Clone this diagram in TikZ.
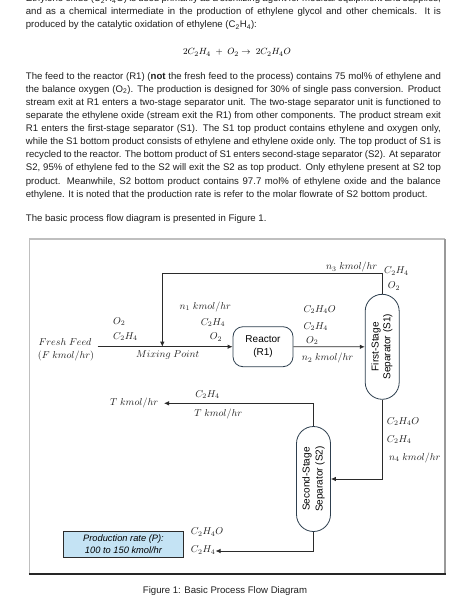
\documentclass[tikz,border=0pt]{standalone}
\usepackage{fontspec}
\setmainfont{Liberation Sans}
\usepackage{graphicx}
\usetikzlibrary{arrows.meta}
\definecolor{ln}{HTML}{2B2B2B}
\definecolor{vb}{HTML}{2E3F4F}
\definecolor{pfill}{HTML}{C4E3F4}
\newcommand{\tsb}[1]{\textsubscript{#1}}
\newcommand{\jline}[3]{\node[body] (#1) at (25.7,#2) {\makebox[415pt][s]{#3}};}
\newcommand{\nline}[3]{\node[body] (#1) at (25.7,#2) {#3};}
\begin{document}
\begin{tikzpicture}[x=1pt,y=-1pt,
  body/.style={anchor=base west,inner sep=0pt,font=\fontsize{9.6}{12}\selectfont,text=black!88},
  lbl/.style={inner sep=0pt,font=\fontsize{10}{12}\selectfont,text=black!88},
  flow/.style={draw=ln,line width=0.8pt},
  arr/.style={flow,-{Latex[length=5pt,width=4.5pt]}},
  vessel/.style={draw=vb,line width=0.8pt,fill=white,rounded corners=17pt,minimum width=34pt,minimum height=105pt,inner sep=0pt,font=\fontsize{10}{11.7}\selectfont},
  reactor/.style={draw=vb,line width=0.8pt,fill=white,rounded corners=10pt,minimum width=60pt,minimum height=40pt,inner sep=0pt,align=center,font=\fontsize{10}{13}\selectfont},
  prodbox/.style={draw=ln,line width=0.8pt,fill=pfill,minimum width=120.7pt,minimum height=26pt,inner sep=0pt,align=center,font=\fontsize{9.3}{11.7}\selectfont\itshape}]
\useasboundingbox (0,0) rectangle (474,607);
\fill[white] (0,0) rectangle (474,607);
% text
\jline{l0}{1.8}{Ethylene oxide (C\tsb{2}H\tsb{4}O) is used primarily as a sterilizing agent for medical equipment and supplies,}
\jline{l1}{14.8}{and as a chemical intermediate in the production of ethylene glycol and other chemicals. It is}
\nline{l2}{27.8}{produced by the catalytic oxidation of ethylene (C\tsb{2}H\tsb{4}):}
\node[inner sep=0pt,anchor=base,font=\fontsize{9.5}{12}\selectfont] (eq) at (237,55) {$2C_2H_4\;+\;O_2\rightarrow\;2C_2H_4O$};
\jline{p1}{79.2}{The feed to the reactor (R1) (\textbf{not} the fresh feed to the process) contains 75 mol\% of ethylene and}
\jline{p2}{92.3}{the balance oxygen (O\tsb{2}). The production is designed for 30\% of single pass conversion. Product}
\jline{p3}{105.4}{stream exit at R1 enters a two-stage separator unit. The two-stage separator unit is functioned to}
\jline{p4}{118.5}{separate the ethylene oxide (stream exit the R1) from other components. The product stream exit}
\jline{p5}{131.6}{R1 enters the first-stage separator (S1). The S1 top product contains ethylene and oxygen only,}
\jline{p6}{144.7}{while the S1 bottom product consists of ethylene and ethylene oxide only. The top product of S1 is}
\jline{p7}{157.8}{recycled to the reactor. The bottom product of S1 enters second-stage separator (S2). At separator}
\jline{p8}{170.9}{S2, 95\% of ethylene fed to the S2 will exit the S2 as top product. Only ethylene present at S2 top}
\jline{p9}{184.0}{product. Meanwhile, S2 bottom product contains 97.7 mol\% of ethylene oxide and the balance}
\nline{p10}{197.1}{ethylene. It is noted that the production rate is refer to the molar flowrate of S2 bottom product.}
\nline{p11}{221.5}{The basic process flow diagram is presented in Figure 1.}
% frame
\draw[black!25,line width=1.5pt] (29.5,574) -- (29.5,239) -- (445,239);
\draw[black!40,line width=1.5pt] (445,239) -- (445,574);
\draw[black!85,line width=1.2pt] (28.8,574) -- (445.7,574);
% units
\node[reactor] (R1) at (263,346.7) {Reactor\\(R1)};
\node[vessel] (S1) at (382.2,346.8) {\rotatebox{90}{\begin{tabular}{@{}c@{}}First-Stage\\Separator (S1)\end{tabular}}};
\node[vessel] (S2) at (313.5,479) {\rotatebox{90}{\def\arraystretch{1.12}\begin{tabular}{@{}c@{}}Second-Stage\\Separator (S2)\end{tabular}}};
\node[prodbox] (P) at (123.5,544) {Production rate (P):\\100 to 150 kmol/hr};
% coordinates
\coordinate (ff) at (97.7,346.7);
\coordinate (mix) at (162.3,346.7);
\coordinate (rec) at (162.3,273.3);
\coordinate (Tend) at (164,403.3);
\coordinate (Pend) at (215.5,551);
% connectors
\draw[flow] (ff) -- (mix);
\draw[arr] (mix) -- (R1.west);
\draw[arr] (S1.north) |- (rec) -- (mix);
\draw[arr] (R1.east) -- (S1.west);
\draw[arr] (S1.south) |- (S2.east);
\draw[arr] (S2.north) |- (Tend);
\draw[arr] (S2.south) |- (Pend);
% labels
\node[lbl,anchor=base west] (fo2) at (113,324) {$O_2$};
\node[lbl,anchor=base west] (fc2) at (113,339) {$C_2H_4$};
\node[lbl,anchor=base] (ffa) at (65,345) {$Fresh\ Feed$};
\node[lbl,anchor=base] (ffb) at (66,358) {$(F\ kmol/hr)$};
\node[lbl,anchor=base] (mixl) at (167.7,357) {$Mixing\ Point$};
\node[lbl,anchor=base] (n1) at (205.3,309) {$n_1\ kmol/hr$};
\node[lbl,anchor=base] (n1c) at (213,325) {$C_2H_4$};
\node[lbl,anchor=base] (n1o) at (216,339.7) {$O_2$};
\node[lbl,anchor=base] (n3) at (351.7,269.7) {$n_3\ kmol/hr$};
\node[lbl,anchor=base west] (n3c) at (384,273.7) {$C_2H_4$};
\node[lbl,anchor=base west] (n3o) at (387.7,288.7) {$O_2$};
\node[lbl,anchor=base west] (n2e) at (303.3,312) {$C_2H_4O$};
\node[lbl,anchor=base west] (n2c) at (303.3,329.3) {$C_2H_4$};
\node[lbl,anchor=base west] (n2o) at (306,343) {$O_2$};
\node[lbl,anchor=base west] (n2) at (301.7,360.7) {$n_2\ kmol/hr$};
\node[lbl,anchor=base] (tc) at (207.5,397) {$C_2H_4$};
\node[lbl,anchor=base east] (tl) at (158.3,405.5) {$T\ kmol/hr$};
\node[lbl,anchor=base] (tb) at (218.3,416.3) {$T\ kmol/hr$};
\node[lbl,anchor=base west] (n4e) at (386.7,424) {$C_2H_4O$};
\node[lbl,anchor=base west] (n4c) at (386.7,442.3) {$C_2H_4$};
\node[lbl,anchor=base west] (n4) at (389,460.3) {$n_4\ kmol/hr$};
\node[lbl,anchor=base west] (pe) at (190.7,534.7) {$C_2H_4O$};
\node[lbl,anchor=base west] (pc) at (190.7,552.7) {$C_2H_4$};
% caption
\node[body,anchor=base] (cap) at (225,593) {Figure 1: Basic Process Flow Diagram};
\end{tikzpicture}
\end{document}
